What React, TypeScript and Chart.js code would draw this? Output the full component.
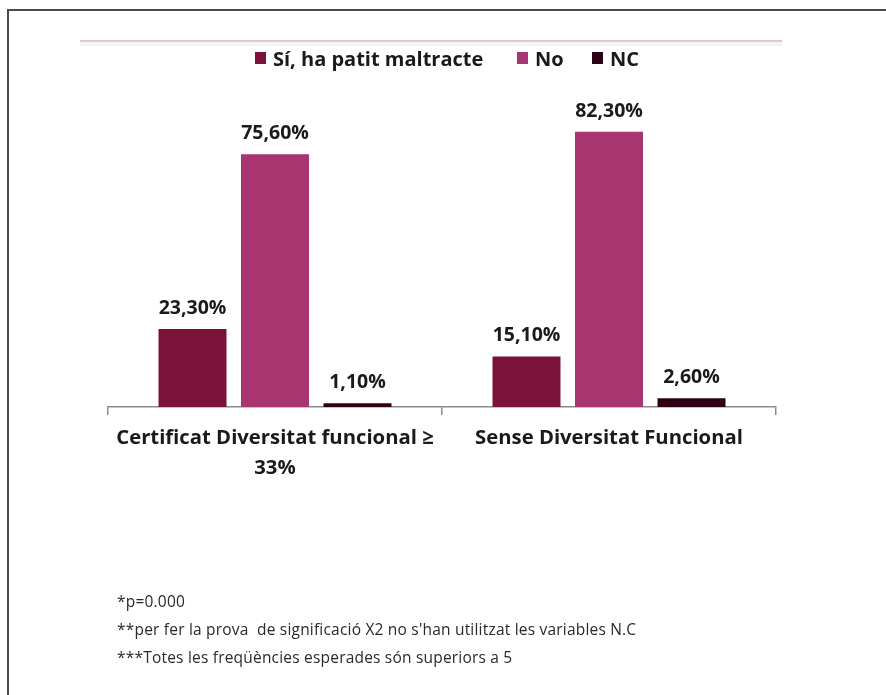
import React, { useEffect, useRef } from "react";
import { Chart, registerables } from "chart.js";

Chart.register(...registerables);

const categories: (string | string[])[] = [
  ["Certificat Diversitat funcional ≥", "33%"],
  "Sense Diversitat Funcional",
];
const seriesNames = ["Sí, ha patit maltracte", "No", "NC"];
const siValues = [23.3, 15.1];
const noValues = [75.6, 82.3];
const ncValues = [1.1, 2.6];
const footnotes = [
  "*p=0.000",
  "**per fer la prova  de significació X2 no s'han utilitzat les variables N.C",
  "***Totes les freqüències esperades són superiors a 5",
];

const colors = ["#7b1239", "#a8356f", "#2d0215"];
const legendLefts = [255, 517, 592];
const footTops = [591, 619, 647];

const valueLabels = {
  id: "valueLabels",
  afterDatasetsDraw(chart: any) {
    const ctx = chart.ctx;
    ctx.save();
    ctx.font = "bold 19.5px 'Open Sans'";
    ctx.fillStyle = "#1a1a1a";
    ctx.textAlign = "center";
    ctx.textBaseline = "alphabetic";
    chart.data.datasets.forEach((ds: any, i: number) => {
      const meta = chart.getDatasetMeta(i);
      meta.data.forEach((el: any, j: number) => {
        const v = ds.data[j] as number;
        const txt = v.toFixed(2).replace(".", ",") + "%";
        ctx.fillText(txt, el.x, el.y - 15);
      });
    });
    ctx.restore();
  },
};

export default function App() {
  const ref = useRef<HTMLCanvasElement | null>(null);

  useEffect(() => {
    if (!ref.current) return;
    const chart = new Chart(ref.current, {
      type: "bar",
      data: {
        labels: categories,
        datasets: [
          { label: seriesNames[0], data: siValues, backgroundColor: colors[0] },
          { label: seriesNames[1], data: noValues, backgroundColor: colors[1] },
          { label: seriesNames[2], data: ncValues, backgroundColor: colors[2] },
        ],
      },
      options: {
        responsive: false,
        animation: false,
        devicePixelRatio: 1,
        layout: { padding: { left: 108, right: 110, top: 106, bottom: 188 } },
        datasets: {
          bar: { categoryPercentage: 0.741, barPercentage: 0.824 },
        },
        plugins: {
          legend: { display: false },
          tooltip: { enabled: false },
          title: { display: false },
        },
        scales: {
          x: {
            offset: true,
            grid: {
              display: true,
              offset: true,
              drawOnChartArea: false,
              drawTicks: true,
              tickLength: 8,
              color: "#8a8a8a",
              lineWidth: 1.5,
            },
            border: { display: true, color: "#8a8a8a", width: 1.5 },
            ticks: {
              color: "#1a1a1a",
              padding: 9,
              font: { family: "'Open Sans'", size: 20.3, weight: "bold", lineHeight: 1.45 },
              maxRotation: 0,
              autoSkip: false,
            },
            afterFit: (scale: any) => {
              scale.height = 100;
            },
          },
          y: {
            display: false,
            min: 0,
            max: 90,
          },
        },
      },
      plugins: [valueLabels],
    });
    return () => chart.destroy();
  }, []);

  return (
    <>
      <div style={{ position: "absolute", left: 7, top: 9, width: 2, height: 686, background: "#4a4a4a" }} />
      <div style={{ position: "absolute", left: 7, top: 9, width: 879, height: 2, background: "#4a4a4a" }} />
      <div style={{ position: "absolute", left: 80, top: 40, width: 702, height: 2, background: "#e8c3ce" }} />
      <div style={{ position: "absolute", left: 80, top: 42, width: 702, height: 4, background: "#f4f4f4" }} />
      <canvas
        ref={ref}
        width={886}
        height={695}
        style={{ position: "absolute", left: 0, top: 0, width: 886, height: 695, display: "block" }}
      />
      {seriesNames.map((name, i) => (
        <div key={name}>
          <div
            style={{
              position: "absolute",
              left: legendLefts[i],
              top: 52,
              width: 11,
              height: 12,
              background: colors[i],
            }}
          />
          <div
            style={{
              position: "absolute",
              left: legendLefts[i] + 18,
              top: 49,
              fontFamily: "'Open Sans'",
              fontWeight: "bold",
              fontSize: 20,
              lineHeight: "20px",
              color: "#1a1a1a",
              whiteSpace: "nowrap",
            }}
          >
            {name}
          </div>
        </div>
      ))}
      {footnotes.map((t, i) => (
        <div
          key={i}
          style={{
            position: "absolute",
            left: 117,
            top: footTops[i],
            fontFamily: "'Open Sans'",
            fontSize: 15.5,
            letterSpacing: "0.2px",
            lineHeight: "20px",
            color: "#2a2a2a",
            whiteSpace: "pre",
          }}
        >
          {t}
        </div>
      ))}
    </>
  );
}
